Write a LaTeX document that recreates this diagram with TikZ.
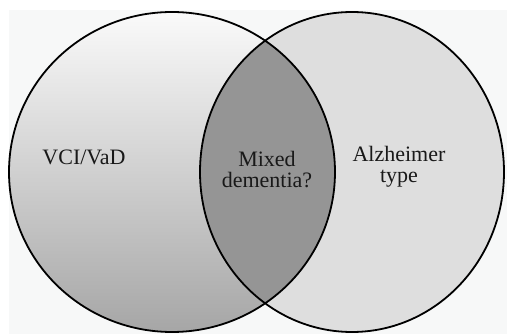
\documentclass[tikz,border=0pt]{standalone}
\usepackage{fontspec}
\setmainfont{Liberation Serif}
\definecolor{panel}{HTML}{F7F8F8}
\definecolor{lefttop}{HTML}{FAFAFA}
\definecolor{leftbot}{HTML}{A6A6A6}
\definecolor{rightfill}{HTML}{DEDEDE}
\definecolor{mixfill}{HTML}{959595}
\tikzset{
  outline/.style={draw=black, line width=1.8pt},
  lbl/.style={font=\fontsize{22}{21}\selectfont, align=center, text=black!90, inner sep=0pt}
}
\begin{document}
\begin{tikzpicture}[x=1pt,y=-1pt]
\useasboundingbox (0,0) rectangle (507,334);
\fill[panel] (9,10) rectangle (507,334);
% circles
\shade[top color=lefttop, bottom color=leftbot] (172,172) ellipse [x radius=163, y radius=160];
\fill[rightfill] (352,172) ellipse [x radius=152, y radius=160];
\begin{scope}
  \clip (172,172) ellipse [x radius=163, y radius=160];
  \fill[mixfill] (352,172) ellipse [x radius=152, y radius=160];
\end{scope}
\draw[outline] (172,172) ellipse [x radius=163, y radius=160];
\draw[outline] (352,172) ellipse [x radius=152, y radius=160];
% labels
\node[lbl] (vci) at (84,157) {VCI/VaD};
\node[lbl] (mix) at (267,170) {Mixed\\dementia?};
\node[lbl] (alz) at (399,167) {Alzheimer\\type};
\end{tikzpicture}
\end{document}
